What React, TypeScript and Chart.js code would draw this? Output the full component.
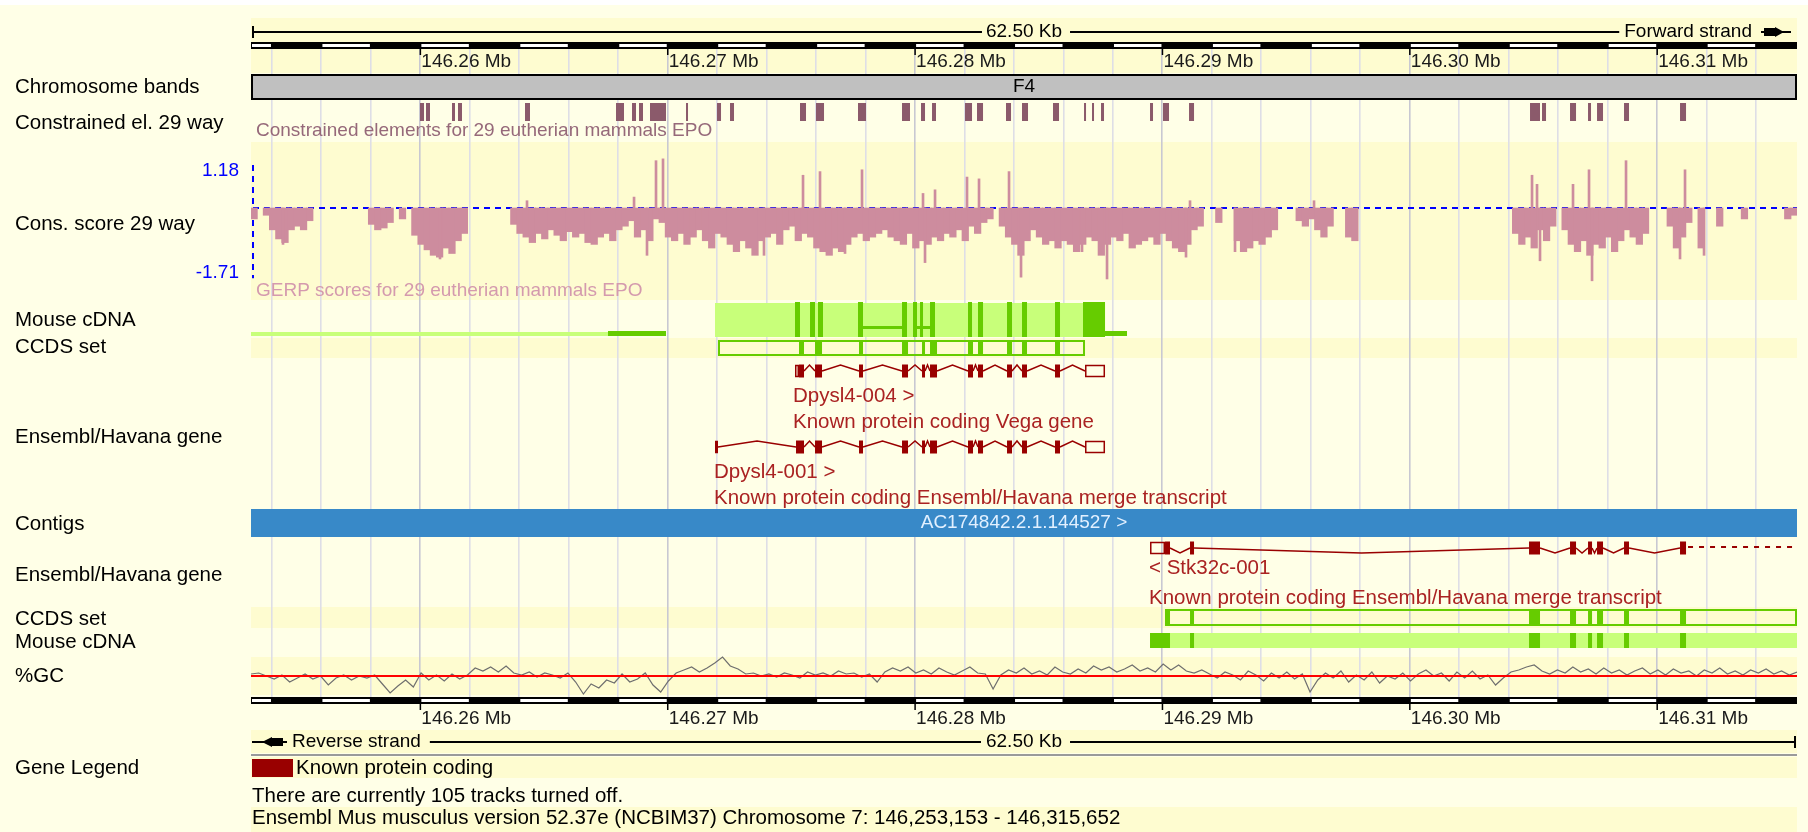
import React, { useEffect, useRef } from 'react';
import { Chart, registerables } from 'chart.js';

Chart.register(...registerables);

// ---------------- region / axis ----------------
const regionStartMb = 146.253153;
const regionEndMb = 146.315652;
const chromosomeName = '7';
const assemblyLine = 'Ensembl Mus musculus version 52.37e (NCBIM37)';
const tracksTurnedOff = 105;
const rulerTicksMb = [146.26, 146.27, 146.28, 146.29, 146.3, 146.31];
const rulerSegmentKb = 2;
const bandLabel = 'F4';

// ---------------- constrained elements [start, end] (Mb) ----------------
const constrainedElements = [
  [146.259985, 146.260147], [146.260228, 146.260389], [146.261279, 146.2614], [146.261521, 146.261683],
  [146.26423, 146.264432], [146.267909, 146.268232], [146.268556, 146.268717], [146.268839, 146.269],
  [146.269283, 146.26993], [146.270739, 146.27082], [146.271992, 146.272154], [146.272518, 146.272679],
  [146.275347, 146.27559], [146.275994, 146.276318], [146.277692, 146.278016], [146.279471, 146.279794],
  [146.280239, 146.280401], [146.280684, 146.280845], [146.282018, 146.282301], [146.282503, 146.282746],
  [146.283675, 146.283878], [146.284322, 146.284565], [146.285575, 146.285818], [146.286829, 146.28691],
  [146.287152, 146.287233], [146.287516, 146.287637], [146.289497, 146.289618], [146.290022, 146.290265],
  [146.291074, 146.291276], [146.304859, 146.305263], [146.305344, 146.305506], [146.306476, 146.306719],
  [146.307204, 146.307325], [146.307568, 146.30781], [146.308659, 146.308861], [146.310923, 146.311166],
];

// ---------------- GERP conservation score (250 bp bins from region start) ----------------
const consAxisMax = 1.18;
const consAxisMin = -1.71;
const consBinMb = 0.00025;
const consScore = [
  -0.3, null, -0.2, -0.6, -0.85, -0.95, -0.6, -0.5, -0.6, -0.35,
  null, null, null, null, null, null, null, null, null, -0.45,
  -0.6, -0.55, -0.4, null, -0.3, null, -0.75, -1.0, -1.15, -1.3,
  -1.35, -1.1, -1.25, -0.9, -0.7, null, null, null, null, null,
  null, null, -0.45, -0.7, -0.8, -0.95, -0.7, -0.85, -0.6, -0.75,
  -0.9, -0.65, -0.8, -0.7, -0.95, -1.0, -0.8, -0.7, -0.9, -0.6,
  -0.5, -0.35, -0.8, -0.6, -0.9, -0.3, -0.4, -0.8, -0.9, -0.7,
  -1.0, -0.8, -0.6, -0.9, -1.1, -0.7, -0.8, -1.0, -1.2, -0.9,
  -1.1, -1.3, -0.9, -0.8, -0.7, -1.0, -0.6, -0.5, -0.9, -0.7,
  -0.8, -1.1, -1.2, -1.3, -1.1, -1.2, -1.0, -0.8, -0.7, -0.9,
  -0.8, -0.7, -0.6, -0.8, -0.9, -1.0, -0.7, -1.1, -0.9, -1.0,
  -0.8, -0.9, -0.7, -0.8, -0.6, -0.9, -0.5, -0.7, -0.4, -0.3,
  null, -0.5, -0.8, -1.0, -1.3, -0.9, -0.6, -0.8, -1.0, -0.9,
  -1.1, -0.9, -1.0, -1.2, -1.0, -0.8, -0.9, -1.3, -1.0, -0.8,
  -0.9, -0.7, -1.1, -1.0, -0.9, -0.8, -1.0, -0.7, -0.9, -1.1,
  -1.2, -1.0, -0.6, -0.5, null, null, -0.4, null, null, -0.9,
  -1.2, -1.1, -0.9, -1.0, -0.8, -0.6, null, null, null, -0.35,
  -0.5, -0.3, -0.6, -0.8, -0.5, null, null, -0.8, -0.9, null,
  null, null, null, null, null, null, null, null, null, null,
  null, null, null, null, null, null, null, null, null, null,
  null, null, null, null, -0.7, -1.0, -0.8, -1.1, -0.6, -0.9,
  -0.5, null, -0.6, -1.0, -1.2, -0.9, -1.3, -1.0, -1.1, -0.8,
  -1.2, -0.9, -0.6, -0.8, -1.0, -0.7, null, null, null, -0.5,
  -1.1, -0.8, -0.4, null, -1.1, null, null, -0.5, null, null,
  null, -0.3, null, null, null, null, null, null, -0.3, -0.2,
];
// single-base spikes (position Mb, score)
const consSpikePos = [
  146.254447, 146.260794, 146.264311, 146.268638, 146.269162, 146.269526, 146.269809, 146.273892,
  146.275469, 146.276156, 146.277167, 146.277854, 146.28032, 146.280401, 146.280806, 146.282099,
  146.282584, 146.283797, 146.284282, 146.286748, 146.287759, 146.290952, 146.291114, 146.292933,
  146.296127, 146.30494, 146.305142, 146.305263, 146.306597, 146.307244, 146.307366, 146.30874,
  146.310923, 146.311125, 146.311894,
];
const consSpikeVal = [
  -1.0, -1.4, 0.2, 0.3, -1.3, 1.3, 1.35, -1.3,
  0.9, 1.0, -1.25, 1.05, 0.4, -1.5, 0.5, 0.85,
  0.8, 1.0, -1.9, -1.2, -1.95, -1.35, 0.2, -1.2,
  0.2, 0.9, 0.65, -1.45, 0.65, 1.05, -2.0, 1.3,
  -1.4, 1.05, -1.3,
];

// ---------------- %GC (points every 312.5 bp) ----------------
const gcStepMb = 0.0003125;
const gcMean = 42;
const gcPercent = [
  44, 45, 42, 39, 43, 36, 40, 44, 39, 42,
  33, 40, 43, 38, 42, 40, 43, 34, 25, 32,
  38, 31, 45, 38, 43, 37, 44, 39, 43, 50,
  47, 51, 46, 52, 45, 43, 46, 41, 45, 43,
  40, 45, 36, 24, 34, 30, 38, 35, 44, 36,
  39, 45, 33, 26, 37, 45, 48, 51, 46, 50,
  55, 61, 52, 49, 44, 45, 42, 44, 41, 45,
  43, 40, 46, 43, 45, 42, 47, 44, 45, 41,
  44, 36, 46, 50, 47, 51, 45, 48, 44, 50,
  46, 43, 47, 51, 45, 44, 29, 43, 48, 45,
  50, 44, 47, 43, 51, 46, 44, 49, 45, 52,
  48, 51, 46, 49, 53, 47, 50, 46, 54, 48,
  53, 47, 45, 48, 44, 40, 46, 43, 38, 47,
  43, 37, 45, 40, 46, 39, 44, 26, 38, 45,
  40, 47, 36, 43, 38, 46, 35, 42, 39, 45,
  37, 44, 48, 42, 45, 37, 46, 40, 47, 39,
  43, 33, 40, 46, 48, 51, 53, 47, 44, 48,
  45, 51, 46, 49, 44, 50, 45, 48, 43, 47,
  50, 44, 48, 43, 49, 45, 47, 42, 48, 45,
  50, 44, 47, 43, 48, 45, 49, 44, 47, 43, 46,
];

// ---------------- transcripts: [start, end, coding(1)/UTR(0)] ----------------
const dpysl4004Exons = [
  [146.275145, 146.275307, 0], [146.275307, 146.275509, 1], [146.275954, 146.276237, 1],
  [146.277733, 146.277894, 1], [146.279471, 146.279714, 1], [146.28028, 146.280401, 1],
  [146.280603, 146.280886, 1], [146.282139, 146.282341, 1], [146.282543, 146.282746, 1],
  [146.283716, 146.283918, 1], [146.284322, 146.284524, 1], [146.285656, 146.285858, 1],
  [146.286869, 146.287678, 0],
];
const dpysl4001Exons = [
  [146.271911, 146.272032, 0], [146.275186, 146.275509, 1], [146.275954, 146.276237, 1],
  [146.277733, 146.277894, 1], [146.279471, 146.279714, 1], [146.28028, 146.280401, 1],
  [146.280603, 146.280886, 1], [146.282139, 146.282341, 1], [146.282543, 146.282746, 1],
  [146.283716, 146.283918, 1], [146.284322, 146.284524, 1], [146.285656, 146.285858, 1],
  [146.286869, 146.287678, 0],
];
const stk32c001Exons = [
  [146.289497, 146.290103, 0], [146.290103, 146.290305, 1], [146.291114, 146.291276, 1],
  [146.304819, 146.305263, 1], [146.306476, 146.306719, 1], [146.307204, 146.307366, 1],
  [146.307568, 146.30781, 1], [146.308659, 146.308861, 1], [146.310923, 146.311166, 1],
];
const stk32c001EndMb = 146.324;
const geneNames = ['Dpysl4-004 >', 'Dpysl4-001 >', '< Stk32c-001'];
const geneDescriptions = [
  'Known protein coding Vega gene',
  'Known protein coding Ensembl/Havana merge transcript',
  'Known protein coding Ensembl/Havana merge transcript',
];

// ---------------- CCDS spans ----------------
const ccdsDpysl4Span = [146.272032, 146.286869];
const ccdsStk32cSpan = [146.290103, 146.324];

// ---------------- Mouse cDNA ----------------
const mouseCdnaUpperBlock = [146.271911, 146.287678];
const mouseCdnaUpperExons = [
  [146.275145, 146.275347], [146.275752, 146.275954], [146.276075, 146.276277], [146.277692, 146.277894],
  [146.279471, 146.279673], [146.279916, 146.280077], [146.280199, 146.28032], [146.280603, 146.280805],
  [146.282139, 146.282301], [146.282543, 146.282746], [146.283716, 146.283918], [146.284322, 146.284524],
  [146.285656, 146.285858], [146.286788, 146.287678],
];
const mouseCdnaUpperLinks = [[146.277894, 146.279511], [146.280077, 146.280603]];
const mouseCdnaUpperLight = [[146.25, 146.267585]];
const mouseCdnaUpperDark = [[146.267585, 146.26993], [146.286788, 146.288567]];
const mouseCdnaLowerBlock = [146.289497, 146.324];
const mouseCdnaLowerExons = [
  [146.289497, 146.290305], [146.291114, 146.291276], [146.304819, 146.305263], [146.306476, 146.306719],
  [146.307204, 146.307366], [146.307568, 146.30781], [146.308659, 146.308861], [146.310923, 146.311166],
];

// ---------------- contig ----------------
const contigName = 'AC174842.2.1.144527 >';
const contigSpan = [146.2, 146.34];

// ---------------- styling & layout (pixels) ----------------
const FONT = '"Liberation Sans", Arial, Helvetica, sans-serif';
const F19 = `19px ${FONT}`;
const F20 = `20.5px ${FONT}`;
const COL = {
  bg: '#FFFFE7',
  stripe: '#FEFCD0',
  grid: '#DEDEE6',
  gridMajor: '#C8C8D2',
  cons: '#CD8C9E',
  constrained: '#8B5A6B',
  constrainedText: '#96697A',
  gerpText: '#D49AAE',
  blue: '#0000FF',
  green: '#66CC00',
  lightGreen: '#C8FF7A',
  gene: '#990000',
  geneText: '#AA2222',
  contig: '#3889C8',
  contigText: '#E2F0FF',
  band: '#C0C0C0',
};
const W = 1808;
const H = 832;
const PLOT_LEFT = 251;
const PLOT_RIGHT_PAD = 11;
const L = {
  labelX: 15,
  topLineY: 32,
  topRulerY: 42,
  topTickLabelY: 62,
  bandTop: 74, bandBottom: 100,
  constrainedTop: 103, constrainedBottom: 121, constrainedTextY: 131,
  consZeroY: 208, consPxPerUnit: 36.4, gerpTextY: 291,
  mouse1Top: 303, mouse1Bottom: 337,
  ccds1Top: 340, ccds1Bottom: 356,
  tr004Y: 371, tr004T1: 396, tr004T2: 422,
  tr001Y: 447, tr001T1: 472, tr001T2: 498,
  contigTop: 509, contigBottom: 537,
  stkY: 548, stkT1: 568, stkT2: 598,
  ccds2Top: 609, ccds2Bottom: 626,
  mouse2Top: 633, mouse2Bottom: 648,
  gcMeanY: 676,
  bottomRulerY: 697, bottomTickLabelY: 719,
  revLineY: 742, sepY: 755,
  legendTop: 759, legendBottom: 777, legendTextY: 768,
  tracksOffY: 796, footerY: 818,
  gridTop: 49, gridBottom: 697,
};
const STRIPES = [[18, 73], [142, 300], [338, 358], [607, 628], [657, 695], [730, 753], [757, 778], [807, 832]];
const LEFT_LABELS: [string, number][] = [
  ['Chromosome bands', 87], ['Constrained el. 29 way', 123], ['Cons. score 29 way', 224],
  ['Mouse cDNA', 320], ['CCDS set', 347], ['Ensembl/Havana gene', 437], ['Contigs', 524],
  ['Ensembl/Havana gene', 575], ['CCDS set', 619], ['Mouse cDNA', 642], ['%GC', 676], ['Gene Legend', 768],
];

const plotWidth = W - PLOT_LEFT - PLOT_RIGHT_PAD;
const consMax = L.consZeroY / L.consPxPerUnit;
const consMin = consMax - H / L.consPxPerUnit;
const gcMax = gcMean + L.gcMeanY;
const gcMin = gcMean - (H - L.gcMeanY);

function fmtBp(mb: number) {
  return Math.round(mb * 1e6).toLocaleString('en-US');
}

function drawBack(chart: any) {
  const ctx: CanvasRenderingContext2D = chart.ctx;
  const xs = chart.scales.x;
  const ys = chart.scales.yLayout;
  const X = (v: number) => xs.getPixelForValue(v);
  const Y = (v: number) => ys.getPixelForValue(v);
  const x0 = chart.chartArea.left;
  const x1 = chart.chartArea.right;
  ctx.save();
  ctx.fillStyle = '#FFFFFF';
  ctx.fillRect(0, 0, W, H);
  ctx.fillStyle = COL.bg;
  ctx.fillRect(0, Y(5), W, H);
  ctx.fillStyle = COL.stripe;
  for (const [a, b] of STRIPES) ctx.fillRect(x0, Y(a), x1 - x0, Y(b) - Y(a));

  // grid lines every 2 kb
  const startBp = Math.round(regionStartMb * 1e6);
  const endBp = Math.round(regionEndMb * 1e6);
  const seg = rulerSegmentKb * 1000;
  for (let s = Math.ceil(startBp / seg) * seg; s < endBp; s += seg) {
    const major = s % 10000 === 0;
    ctx.fillStyle = major ? COL.gridMajor : COL.grid;
    ctx.fillRect(Math.round(X(s / 1e6)) - 1, Y(L.gridTop), 1.6, Y(L.gridBottom) - Y(L.gridTop));
  }

  // top scale line
  ctx.font = F19;
  ctx.textBaseline = 'middle';
  ctx.fillStyle = '#000';
  const spanLabel = ((regionEndMb - regionStartMb) * 1000).toFixed(2) + ' Kb';
  const cx = (x0 + x1) / 2;
  const sw = ctx.measureText(spanLabel).width;
  const fwd = 'Forward strand';
  const fw = ctx.measureText(fwd).width;
  const fwdRight = x1 - 45;
  const ty = Y(L.topLineY);
  ctx.fillRect(x0 + 1, ty - 6, 2, 12);
  ctx.fillRect(x0 + 1, ty - 1, cx - sw / 2 - 5 - x0, 2);
  ctx.fillRect(cx + sw / 2 + 8, ty - 1, fwdRight - fw - 5 - (cx + sw / 2 + 8), 2);
  ctx.textAlign = 'center';
  ctx.fillText(spanLabel, cx, ty);
  ctx.textAlign = 'right';
  ctx.fillText(fwd, fwdRight, ty);
  ctx.fillRect(x1 - 36, ty - 1, 30, 2);
  ctx.fillRect(x1 - 33, ty - 4, 11, 8);
  ctx.beginPath();
  ctx.moveTo(x1 - 22, ty - 5);
  ctx.lineTo(x1 - 13, ty);
  ctx.lineTo(x1 - 22, ty + 5);
  ctx.closePath();
  ctx.fill();

  drawRuler(ctx, X, x0, x1, Y(L.topRulerY), Y(L.topTickLabelY));

  // chromosome band
  ctx.fillStyle = COL.band;
  ctx.fillRect(x0, Y(L.bandTop), x1 - x0, Y(L.bandBottom) - Y(L.bandTop));
  ctx.strokeStyle = '#000';
  ctx.lineWidth = 2;
  ctx.strokeRect(x0 + 1, Y(L.bandTop) + 1, x1 - x0 - 2, Y(L.bandBottom) - Y(L.bandTop) - 2);
  ctx.fillStyle = '#000';
  ctx.textAlign = 'center';
  ctx.fillText(bandLabel, cx, (Y(L.bandTop) + Y(L.bandBottom)) / 2);

  // constrained elements
  ctx.fillStyle = COL.constrained;
  for (const [s, e] of constrainedElements) {
    const a = X(s);
    const w = Math.max(X(e) - a, 2);
    ctx.fillRect(a, Y(L.constrainedTop), w, Y(L.constrainedBottom) - Y(L.constrainedTop));
  }
  ctx.textAlign = 'left';
  ctx.fillStyle = COL.constrainedText;
  ctx.fillText('Constrained elements for 29 eutherian mammals EPO', x0 + 5, Y(L.constrainedTextY));

  // cons score axis
  const yc = chart.scales.yCons;
  const zero = yc.getPixelForValue(0);
  ctx.strokeStyle = COL.blue;
  ctx.lineWidth = 2;
  ctx.setLineDash([6, 5]);
  ctx.beginPath();
  ctx.moveTo(x0 + 2, zero);
  ctx.lineTo(x1, zero);
  ctx.moveTo(x0 + 2, yc.getPixelForValue(consAxisMax));
  ctx.lineTo(x0 + 2, yc.getPixelForValue(consAxisMin) + 8);
  ctx.stroke();
  ctx.setLineDash([]);
  ctx.fillStyle = COL.blue;
  ctx.textAlign = 'right';
  ctx.fillText(consAxisMax.toFixed(2), x0 - 12, yc.getPixelForValue(consAxisMax) + 6);
  ctx.fillText(consAxisMin.toFixed(2), x0 - 12, yc.getPixelForValue(consAxisMin) + 3);
  ctx.textAlign = 'left';
  ctx.fillStyle = COL.gerpText;
  ctx.fillText('GERP scores for 29 eutherian mammals EPO', x0 + 5, Y(L.gerpTextY));

  // left labels
  ctx.font = F20;
  ctx.fillStyle = '#000';
  for (const [t, y] of LEFT_LABELS) ctx.fillText(t, L.labelX, Y(y));
  ctx.restore();
}

function drawRuler(ctx: CanvasRenderingContext2D, X: (v: number) => number, x0: number, x1: number, top: number, labelY: number) {
  ctx.fillStyle = '#000';
  ctx.fillRect(x0, top, x1 - x0, 7);
  const startBp = Math.round(regionStartMb * 1e6);
  const endBp = Math.round(regionEndMb * 1e6);
  const seg = rulerSegmentKb * 1000;
  const refBp = Math.round(rulerTicksMb[0] * 1e6);
  for (let s = Math.floor(startBp / seg) * seg; s < endBp; s += seg) {
    const k = Math.round((s - refBp) / seg);
    if (((k % 2) + 2) % 2 !== 0) continue;
    const a = X(Math.max(s, startBp) / 1e6);
    const b = X(Math.min(s + seg, endBp) / 1e6);
    ctx.fillStyle = '#FFFFFF';
    ctx.fillRect(a + 1, top + 2, b - a - 2, 3);
  }
  ctx.font = F19;
  ctx.textBaseline = 'middle';
  ctx.textAlign = 'left';
  for (const t of rulerTicksMb) {
    const p = X(t);
    ctx.fillStyle = '#000';
    ctx.fillRect(p - 0.75, top + 7, 1.5, 6);
    ctx.fillStyle = '#1a1a1a';
    ctx.fillText(t.toFixed(2) + ' Mb', p + 1, labelY);
  }
}

function drawTranscript(ctx: CanvasRenderingContext2D, X: (v: number) => number, exons: number[][], yc: number, hat: number) {
  ctx.strokeStyle = COL.gene;
  ctx.fillStyle = COL.gene;
  ctx.lineWidth = 1.5;
  for (let i = 1; i < exons.length; i++) {
    const a = X(exons[i - 1][1]);
    const b = X(exons[i][0]);
    if (b - a > 1) {
      ctx.beginPath();
      ctx.moveTo(a, yc);
      ctx.lineTo((a + b) / 2, yc + hat);
      ctx.lineTo(b, yc);
      ctx.stroke();
    }
  }
  for (const [s, e, coding] of exons) {
    const a = X(s);
    const w = Math.max(X(e) - a, 2);
    if (coding) {
      ctx.fillRect(a, yc - 6.5, w, 13);
    } else {
      ctx.strokeRect(a + 0.75, yc - 5.5, Math.max(w - 1.5, 1.5), 11);
    }
  }
}

function drawCcds(ctx: CanvasRenderingContext2D, X: (v: number) => number, cl: (p: number) => number, span: number[], exons: number[][], top: number, bottom: number) {
  const a = cl(X(span[0]));
  const b = cl(X(span[1]));
  ctx.strokeStyle = COL.green;
  ctx.lineWidth = 2;
  ctx.strokeRect(a + 1, top + 1, b - a - 2, bottom - top - 2);
  ctx.fillStyle = COL.green;
  for (const [s, e] of exons) {
    const p = X(s);
    ctx.fillRect(p, top, Math.max(X(e) - p, 3), bottom - top);
  }
}

function drawFront(chart: any) {
  const ctx: CanvasRenderingContext2D = chart.ctx;
  const xs = chart.scales.x;
  const ys = chart.scales.yLayout;
  const X = (v: number) => xs.getPixelForValue(v);
  const Y = (v: number) => ys.getPixelForValue(v);
  const x0 = chart.chartArea.left;
  const x1 = chart.chartArea.right;
  const cl = (p: number) => Math.max(x0, Math.min(x1, p));
  ctx.save();

  // ---- upper mouse cDNA ----
  ctx.fillStyle = COL.lightGreen;
  for (const [s, e] of mouseCdnaUpperLight) ctx.fillRect(cl(X(s)), Y(L.mouse1Bottom) - 5, cl(X(e)) - cl(X(s)), 4);
  ctx.fillStyle = COL.green;
  for (const [s, e] of mouseCdnaUpperDark) ctx.fillRect(cl(X(s)), Y(L.mouse1Bottom) - 6, cl(X(e)) - cl(X(s)), 5);
  ctx.fillStyle = COL.lightGreen;
  ctx.fillRect(X(mouseCdnaUpperBlock[0]), Y(L.mouse1Top), X(mouseCdnaUpperBlock[1]) - X(mouseCdnaUpperBlock[0]), Y(L.mouse1Bottom) - Y(L.mouse1Top));
  ctx.fillStyle = COL.green;
  for (const [s, e] of mouseCdnaUpperExons) {
    const a = X(s);
    ctx.fillRect(a, Y(L.mouse1Top) - 1, Math.max(X(e) - a, 3), Y(L.mouse1Bottom) - Y(L.mouse1Top) + 1);
  }
  for (const [s, e] of mouseCdnaUpperLinks) ctx.fillRect(X(s), Y(L.mouse1Bottom) - 11, X(e) - X(s), 3);

  // ---- upper CCDS ----
  const ccdsExons1 = dpysl4004Exons.filter((e) => e[2] === 1);
  drawCcds(ctx, X, cl, ccdsDpysl4Span, ccdsExons1, Y(L.ccds1Top), Y(L.ccds1Bottom));

  // ---- Dpysl4 transcripts ----
  drawTranscript(ctx, X, dpysl4004Exons, Y(L.tr004Y), -6);
  drawTranscript(ctx, X, dpysl4001Exons, Y(L.tr001Y), -6);
  ctx.font = F20;
  ctx.textBaseline = 'middle';
  ctx.textAlign = 'left';
  ctx.fillStyle = COL.geneText;
  ctx.fillText(geneNames[0], X(dpysl4004Exons[0][0]) - 2, Y(L.tr004T1));
  ctx.fillText(geneDescriptions[0], X(dpysl4004Exons[0][0]) - 2, Y(L.tr004T2));
  ctx.fillText(geneNames[1], X(dpysl4001Exons[0][0]) - 1, Y(L.tr001T1));
  ctx.fillText(geneDescriptions[1], X(dpysl4001Exons[0][0]) - 1, Y(L.tr001T2));

  // ---- contig ----
  const ca = cl(X(contigSpan[0]));
  const cb = cl(X(contigSpan[1]));
  ctx.fillStyle = COL.contig;
  ctx.fillRect(ca, Y(L.contigTop), cb - ca, Y(L.contigBottom) - Y(L.contigTop));
  ctx.font = F19;
  ctx.textAlign = 'center';
  ctx.fillStyle = COL.contigText;
  ctx.fillText(contigName, (ca + cb) / 2, (Y(L.contigTop) + Y(L.contigBottom)) / 2);

  // ---- Stk32c transcript (reverse strand) ----
  const sy = Y(L.stkY);
  drawTranscript(ctx, X, stk32c001Exons, sy, 5);
  const lastEnd = X(stk32c001Exons[stk32c001Exons.length - 1][1]);
  ctx.strokeStyle = COL.gene;
  ctx.lineWidth = 2;
  ctx.setLineDash([5, 6]);
  ctx.beginPath();
  ctx.moveTo(lastEnd + 2, sy - 1);
  ctx.lineTo(cl(X(stk32c001EndMb)), sy - 1);
  ctx.stroke();
  ctx.setLineDash([]);
  ctx.font = F20;
  ctx.textAlign = 'left';
  ctx.fillStyle = COL.geneText;
  ctx.fillText(geneNames[2], X(stk32c001Exons[0][0]) - 1, Y(L.stkT1));
  ctx.fillText(geneDescriptions[2], X(stk32c001Exons[0][0]) - 1, Y(L.stkT2));

  // ---- lower CCDS ----
  const ccdsExons2 = stk32c001Exons.filter((e) => e[2] === 1);
  drawCcds(ctx, X, cl, ccdsStk32cSpan, ccdsExons2, Y(L.ccds2Top), Y(L.ccds2Bottom));

  // ---- lower mouse cDNA ----
  ctx.fillStyle = COL.lightGreen;
  const ma = cl(X(mouseCdnaLowerBlock[0]));
  const mb = cl(X(mouseCdnaLowerBlock[1]));
  ctx.fillRect(ma, Y(L.mouse2Top), mb - ma, Y(L.mouse2Bottom) - Y(L.mouse2Top));
  ctx.fillStyle = COL.green;
  for (const [s, e] of mouseCdnaLowerExons) {
    const a = X(s);
    ctx.fillRect(a, Y(L.mouse2Top), Math.max(X(e) - a, 3), Y(L.mouse2Bottom) - Y(L.mouse2Top));
  }

  // ---- bottom ruler ----
  drawRuler(ctx, X, x0, x1, Y(L.bottomRulerY), Y(L.bottomTickLabelY));

  // ---- reverse strand line ----
  const ry = Y(L.revLineY);
  ctx.fillStyle = '#000';
  ctx.fillRect(x0 + 1, ry - 1, 12, 2);
  ctx.beginPath();
  ctx.moveTo(x0 + 11, ry);
  ctx.lineTo(x0 + 21, ry - 5);
  ctx.lineTo(x0 + 21, ry + 5);
  ctx.closePath();
  ctx.fill();
  ctx.fillRect(x0 + 21, ry - 4, 11, 8);
  ctx.fillRect(x0 + 31, ry - 1, 5, 2);
  ctx.font = F19;
  ctx.textAlign = 'left';
  const rev = 'Reverse strand';
  ctx.fillText(rev, x0 + 41, ry);
  const rw = ctx.measureText(rev).width;
  const spanLabel = ((regionEndMb - regionStartMb) * 1000).toFixed(2) + ' Kb';
  const sw = ctx.measureText(spanLabel).width;
  const cx = (x0 + x1) / 2;
  ctx.fillRect(x0 + 41 + rw + 9, ry - 1, cx - sw / 2 - 5 - (x0 + 41 + rw + 9), 2);
  ctx.textAlign = 'center';
  ctx.fillText(spanLabel, cx, ry);
  ctx.fillRect(cx + sw / 2 + 8, ry - 1, x1 - 2 - (cx + sw / 2 + 8), 2);
  ctx.fillRect(x1 - 3, ry - 6, 2, 12);

  // separator
  ctx.fillStyle = '#9A9A9A';
  ctx.fillRect(x0, Y(L.sepY) - 1, x1 - x0, 2);

  // legend & footer
  ctx.fillStyle = COL.gene;
  ctx.fillRect(x0 + 1, Y(L.legendTop), 41, Y(L.legendBottom) - Y(L.legendTop));
  ctx.font = F20;
  ctx.textAlign = 'left';
  ctx.fillStyle = '#000';
  ctx.fillText('Known protein coding', x0 + 45, Y(L.legendTextY));
  ctx.fillText(`There are currently ${tracksTurnedOff} tracks turned off.`, x0 + 1, Y(L.tracksOffY));
  ctx.fillText(
    `${assemblyLine} Chromosome ${chromosomeName}: ${fmtBp(regionStartMb)} - ${fmtBp(regionEndMb)}`,
    x0 + 1,
    Y(L.footerY)
  );
  ctx.restore();
}

const tracksPlugin = {
  id: 'ensemblTracks',
  beforeDatasetsDraw(chart: any) {
    drawBack(chart);
  },
  afterDatasetsDraw(chart: any) {
    drawFront(chart);
  },
};

export default function App() {
  const ref = useRef<HTMLCanvasElement>(null);
  useEffect(() => {
    const canvas = ref.current;
    if (!canvas) return;
    const consPoints = consScore
      .map((v, i) => ({ x: regionStartMb + (i + 0.5) * consBinMb, y: v }))
      .filter((p) => p.y !== null);
    const spikePoints = consSpikePos.map((p, i) => ({ x: p, y: consSpikeVal[i] }));
    const gcPoints = gcPercent.map((v, j) => ({ x: regionStartMb + j * gcStepMb, y: v }));
    const binPx = (plotWidth * consBinMb) / (regionEndMb - regionStartMb);
    const chart = new Chart(canvas, {
      type: 'bar',
      data: {
        datasets: [
          {
            type: 'bar',
            label: 'Cons. score',
            data: consPoints as any,
            xAxisID: 'x',
            yAxisID: 'yCons',
            backgroundColor: COL.cons,
            borderWidth: 0,
            barThickness: binPx + 0.4,
            grouped: false,
            order: 3,
          } as any,
          {
            type: 'bar',
            label: 'Cons. spikes',
            data: spikePoints as any,
            xAxisID: 'x',
            yAxisID: 'yCons',
            backgroundColor: COL.cons,
            borderWidth: 0,
            barThickness: 2,
            grouped: false,
            order: 2,
          } as any,
          {
            type: 'line',
            label: '%GC',
            data: gcPoints as any,
            xAxisID: 'x',
            yAxisID: 'yGC',
            borderColor: '#6E6E6E',
            borderWidth: 1.2,
            pointRadius: 0,
            tension: 0,
            order: 1,
          } as any,
          {
            type: 'line',
            label: '%GC mean',
            data: [
              { x: regionStartMb, y: gcMean },
              { x: regionEndMb, y: gcMean },
            ] as any,
            xAxisID: 'x',
            yAxisID: 'yGC',
            borderColor: '#FF0000',
            borderWidth: 2,
            pointRadius: 0,
            order: 0,
          } as any,
        ],
      },
      options: {
        responsive: false,
        animation: false,
        devicePixelRatio: 1,
        events: [],
        layout: { padding: { left: PLOT_LEFT, right: PLOT_RIGHT_PAD, top: 0, bottom: 0 } },
        plugins: { legend: { display: false }, tooltip: { enabled: false }, title: { display: false } },
        scales: {
          x: { type: 'linear', min: regionStartMb, max: regionEndMb, offset: false, display: false },
          yLayout: { type: 'linear', axis: 'y', min: 0, max: H, reverse: true, display: false },
          yCons: { type: 'linear', axis: 'y', min: consMin, max: consMax, display: false },
          yGC: { type: 'linear', axis: 'y', min: gcMin, max: gcMax, display: false },
        },
      } as any,
      plugins: [tracksPlugin],
    });
    return () => chart.destroy();
  }, []);
  return (
    <div style={{ position: 'absolute', left: 0, top: 0, width: W, height: H }}>
      <canvas ref={ref} width={W} height={H} style={{ display: 'block', width: W, height: H }} />
    </div>
  );
}
